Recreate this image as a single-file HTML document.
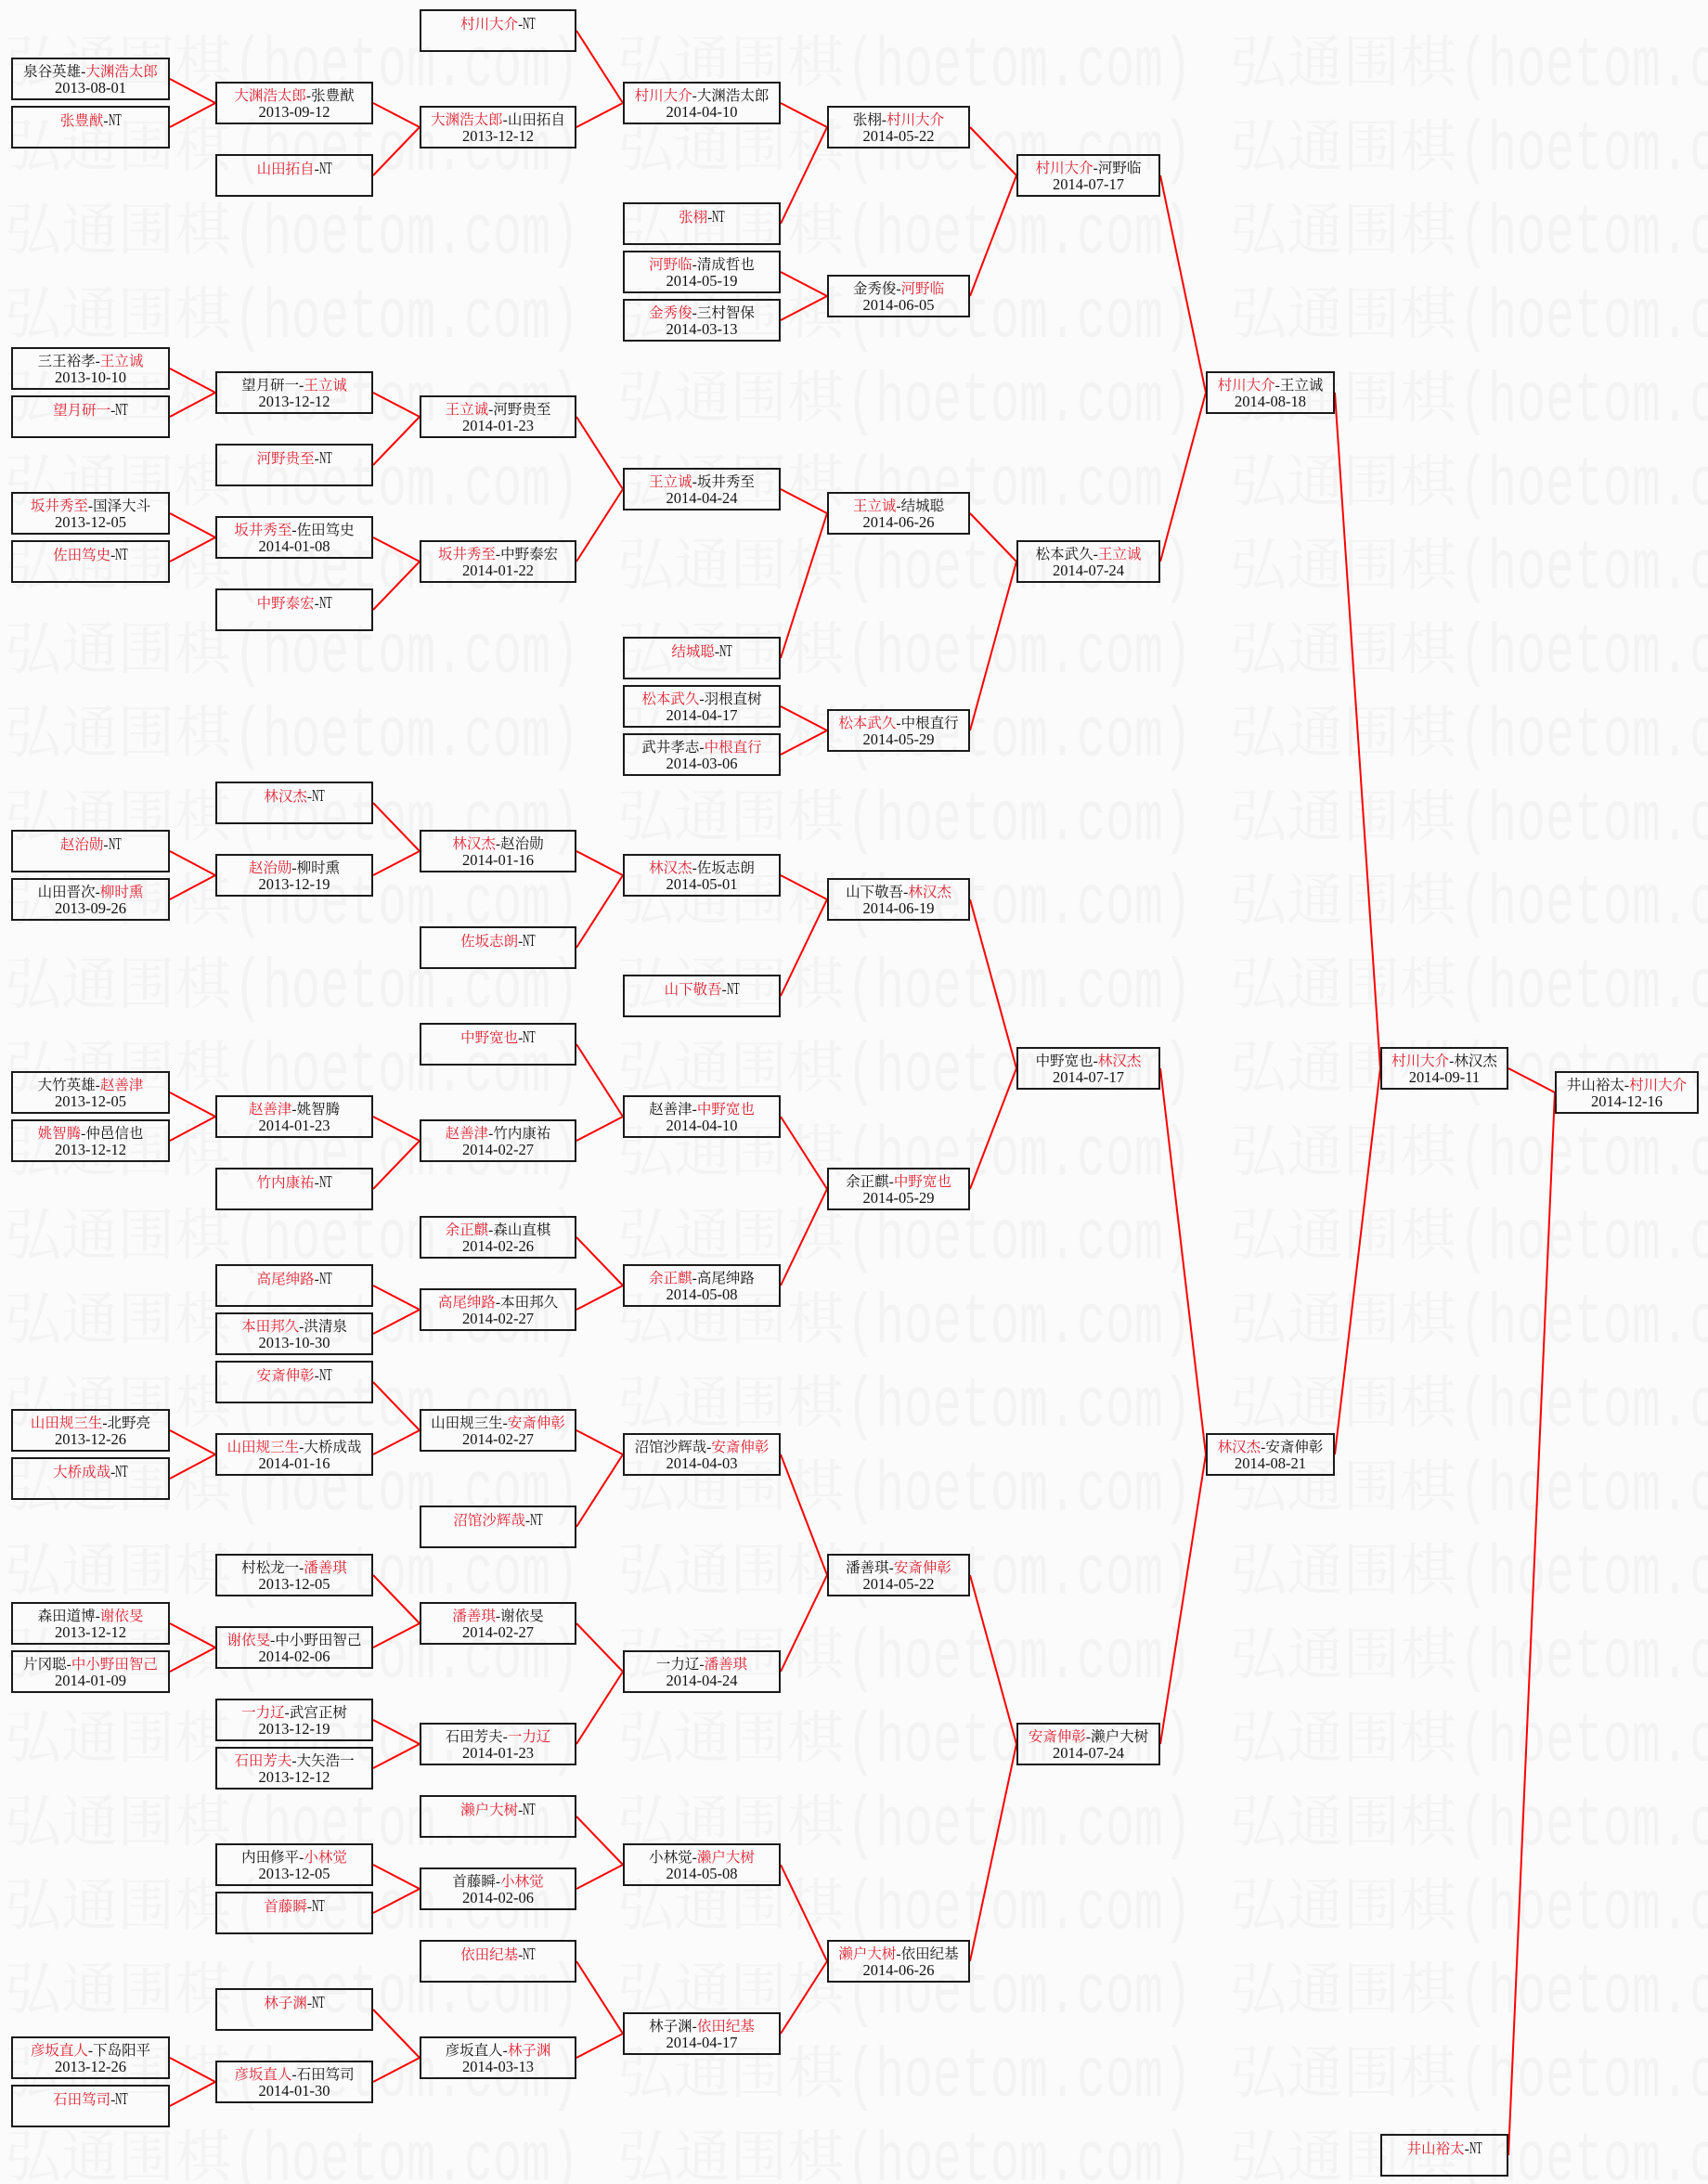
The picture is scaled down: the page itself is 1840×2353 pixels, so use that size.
<!DOCTYPE html>
<html><head><meta charset="utf-8">
<style>
html,body{margin:0;padding:0}
body{width:1840px;height:2353px;background:#fbfbfb;position:relative;overflow:hidden}
#wm,#ln{position:absolute;left:0;top:0}
.wc{font-family:"Noto Serif CJK SC","Noto Sans CJK SC",serif;font-size:61px;fill:#f3f3f3}
.wl{font-family:"Liberation Mono",monospace;font-size:76px;fill:#f3f3f3}
.b{position:absolute;height:46px;box-sizing:border-box;border:2px solid #1a1a1a}
.c0{left:12px;width:171px}
.c1{left:232px;width:170px}
.c2{left:452px;width:169px}
.c3{left:671px;width:170px}
.c4{left:891px;width:154px}
.c5{left:1095px;width:155px}
.c6{left:1299px;width:139px}
.c7{left:1487px;width:138px}
.c8{left:1675px;width:155px}
.n{position:absolute;left:-14px;right:-14px;top:4.5px;height:17.5px;line-height:17.5px;text-align:center;font-family:"Liberation Serif","Noto Serif CJK SC",serif;font-size:15.5px;color:#111;white-space:nowrap}
.d{position:absolute;left:-10px;right:-10px;top:21.7px;height:17.5px;line-height:17.5px;text-align:center;font-family:"Liberation Serif",serif;font-size:16.5px;color:#111;white-space:nowrap}
.r{color:#e02030}
.nt{display:inline-block;font-size:17.5px;line-height:17.5px;transform:scaleX(.58);transform-origin:0 50%;margin-right:-9.8px}
</style></head><body>
<svg id="wm" width="1840" height="2353" xmlns="http://www.w3.org/2000/svg">
<text class="wc" y="88.2"><tspan x="5">弘通围棋</tspan><tspan x="665">弘通围棋</tspan><tspan x="1325">弘通围棋</tspan></text>
<text class="wl" x="252" y="92" textLength="372" lengthAdjust="spacingAndGlyphs">(hoetom.com)</text><text class="wl" x="912" y="92" textLength="372" lengthAdjust="spacingAndGlyphs">(hoetom.com)</text><text class="wl" x="1572" y="92" textLength="372" lengthAdjust="spacingAndGlyphs">(hoetom.com)</text>
<text class="wc" y="178.5"><tspan x="5">弘通围棋</tspan><tspan x="665">弘通围棋</tspan><tspan x="1325">弘通围棋</tspan></text>
<text class="wl" x="252" y="182.3" textLength="372" lengthAdjust="spacingAndGlyphs">(hoetom.com)</text><text class="wl" x="912" y="182.3" textLength="372" lengthAdjust="spacingAndGlyphs">(hoetom.com)</text><text class="wl" x="1572" y="182.3" textLength="372" lengthAdjust="spacingAndGlyphs">(hoetom.com)</text>
<text class="wc" y="268.7"><tspan x="5">弘通围棋</tspan><tspan x="665">弘通围棋</tspan><tspan x="1325">弘通围棋</tspan></text>
<text class="wl" x="252" y="272.5" textLength="372" lengthAdjust="spacingAndGlyphs">(hoetom.com)</text><text class="wl" x="912" y="272.5" textLength="372" lengthAdjust="spacingAndGlyphs">(hoetom.com)</text><text class="wl" x="1572" y="272.5" textLength="372" lengthAdjust="spacingAndGlyphs">(hoetom.com)</text>
<text class="wc" y="359"><tspan x="5">弘通围棋</tspan><tspan x="665">弘通围棋</tspan><tspan x="1325">弘通围棋</tspan></text>
<text class="wl" x="252" y="362.8" textLength="372" lengthAdjust="spacingAndGlyphs">(hoetom.com)</text><text class="wl" x="912" y="362.8" textLength="372" lengthAdjust="spacingAndGlyphs">(hoetom.com)</text><text class="wl" x="1572" y="362.8" textLength="372" lengthAdjust="spacingAndGlyphs">(hoetom.com)</text>
<text class="wc" y="449.2"><tspan x="5">弘通围棋</tspan><tspan x="665">弘通围棋</tspan><tspan x="1325">弘通围棋</tspan></text>
<text class="wl" x="252" y="453" textLength="372" lengthAdjust="spacingAndGlyphs">(hoetom.com)</text><text class="wl" x="912" y="453" textLength="372" lengthAdjust="spacingAndGlyphs">(hoetom.com)</text><text class="wl" x="1572" y="453" textLength="372" lengthAdjust="spacingAndGlyphs">(hoetom.com)</text>
<text class="wc" y="539.5"><tspan x="5">弘通围棋</tspan><tspan x="665">弘通围棋</tspan><tspan x="1325">弘通围棋</tspan></text>
<text class="wl" x="252" y="543.3" textLength="372" lengthAdjust="spacingAndGlyphs">(hoetom.com)</text><text class="wl" x="912" y="543.3" textLength="372" lengthAdjust="spacingAndGlyphs">(hoetom.com)</text><text class="wl" x="1572" y="543.3" textLength="372" lengthAdjust="spacingAndGlyphs">(hoetom.com)</text>
<text class="wc" y="629.7"><tspan x="5">弘通围棋</tspan><tspan x="665">弘通围棋</tspan><tspan x="1325">弘通围棋</tspan></text>
<text class="wl" x="252" y="633.5" textLength="372" lengthAdjust="spacingAndGlyphs">(hoetom.com)</text><text class="wl" x="912" y="633.5" textLength="372" lengthAdjust="spacingAndGlyphs">(hoetom.com)</text><text class="wl" x="1572" y="633.5" textLength="372" lengthAdjust="spacingAndGlyphs">(hoetom.com)</text>
<text class="wc" y="720"><tspan x="5">弘通围棋</tspan><tspan x="665">弘通围棋</tspan><tspan x="1325">弘通围棋</tspan></text>
<text class="wl" x="252" y="723.8" textLength="372" lengthAdjust="spacingAndGlyphs">(hoetom.com)</text><text class="wl" x="912" y="723.8" textLength="372" lengthAdjust="spacingAndGlyphs">(hoetom.com)</text><text class="wl" x="1572" y="723.8" textLength="372" lengthAdjust="spacingAndGlyphs">(hoetom.com)</text>
<text class="wc" y="810.2"><tspan x="5">弘通围棋</tspan><tspan x="665">弘通围棋</tspan><tspan x="1325">弘通围棋</tspan></text>
<text class="wl" x="252" y="814" textLength="372" lengthAdjust="spacingAndGlyphs">(hoetom.com)</text><text class="wl" x="912" y="814" textLength="372" lengthAdjust="spacingAndGlyphs">(hoetom.com)</text><text class="wl" x="1572" y="814" textLength="372" lengthAdjust="spacingAndGlyphs">(hoetom.com)</text>
<text class="wc" y="900.5"><tspan x="5">弘通围棋</tspan><tspan x="665">弘通围棋</tspan><tspan x="1325">弘通围棋</tspan></text>
<text class="wl" x="252" y="904.3" textLength="372" lengthAdjust="spacingAndGlyphs">(hoetom.com)</text><text class="wl" x="912" y="904.3" textLength="372" lengthAdjust="spacingAndGlyphs">(hoetom.com)</text><text class="wl" x="1572" y="904.3" textLength="372" lengthAdjust="spacingAndGlyphs">(hoetom.com)</text>
<text class="wc" y="990.7"><tspan x="5">弘通围棋</tspan><tspan x="665">弘通围棋</tspan><tspan x="1325">弘通围棋</tspan></text>
<text class="wl" x="252" y="994.5" textLength="372" lengthAdjust="spacingAndGlyphs">(hoetom.com)</text><text class="wl" x="912" y="994.5" textLength="372" lengthAdjust="spacingAndGlyphs">(hoetom.com)</text><text class="wl" x="1572" y="994.5" textLength="372" lengthAdjust="spacingAndGlyphs">(hoetom.com)</text>
<text class="wc" y="1081"><tspan x="5">弘通围棋</tspan><tspan x="665">弘通围棋</tspan><tspan x="1325">弘通围棋</tspan></text>
<text class="wl" x="252" y="1084.8" textLength="372" lengthAdjust="spacingAndGlyphs">(hoetom.com)</text><text class="wl" x="912" y="1084.8" textLength="372" lengthAdjust="spacingAndGlyphs">(hoetom.com)</text><text class="wl" x="1572" y="1084.8" textLength="372" lengthAdjust="spacingAndGlyphs">(hoetom.com)</text>
<text class="wc" y="1171.2"><tspan x="5">弘通围棋</tspan><tspan x="665">弘通围棋</tspan><tspan x="1325">弘通围棋</tspan></text>
<text class="wl" x="252" y="1175" textLength="372" lengthAdjust="spacingAndGlyphs">(hoetom.com)</text><text class="wl" x="912" y="1175" textLength="372" lengthAdjust="spacingAndGlyphs">(hoetom.com)</text><text class="wl" x="1572" y="1175" textLength="372" lengthAdjust="spacingAndGlyphs">(hoetom.com)</text>
<text class="wc" y="1261.5"><tspan x="5">弘通围棋</tspan><tspan x="665">弘通围棋</tspan><tspan x="1325">弘通围棋</tspan></text>
<text class="wl" x="252" y="1265.3" textLength="372" lengthAdjust="spacingAndGlyphs">(hoetom.com)</text><text class="wl" x="912" y="1265.3" textLength="372" lengthAdjust="spacingAndGlyphs">(hoetom.com)</text><text class="wl" x="1572" y="1265.3" textLength="372" lengthAdjust="spacingAndGlyphs">(hoetom.com)</text>
<text class="wc" y="1351.7"><tspan x="5">弘通围棋</tspan><tspan x="665">弘通围棋</tspan><tspan x="1325">弘通围棋</tspan></text>
<text class="wl" x="252" y="1355.5" textLength="372" lengthAdjust="spacingAndGlyphs">(hoetom.com)</text><text class="wl" x="912" y="1355.5" textLength="372" lengthAdjust="spacingAndGlyphs">(hoetom.com)</text><text class="wl" x="1572" y="1355.5" textLength="372" lengthAdjust="spacingAndGlyphs">(hoetom.com)</text>
<text class="wc" y="1442"><tspan x="5">弘通围棋</tspan><tspan x="665">弘通围棋</tspan><tspan x="1325">弘通围棋</tspan></text>
<text class="wl" x="252" y="1445.8" textLength="372" lengthAdjust="spacingAndGlyphs">(hoetom.com)</text><text class="wl" x="912" y="1445.8" textLength="372" lengthAdjust="spacingAndGlyphs">(hoetom.com)</text><text class="wl" x="1572" y="1445.8" textLength="372" lengthAdjust="spacingAndGlyphs">(hoetom.com)</text>
<text class="wc" y="1532.2"><tspan x="5">弘通围棋</tspan><tspan x="665">弘通围棋</tspan><tspan x="1325">弘通围棋</tspan></text>
<text class="wl" x="252" y="1536" textLength="372" lengthAdjust="spacingAndGlyphs">(hoetom.com)</text><text class="wl" x="912" y="1536" textLength="372" lengthAdjust="spacingAndGlyphs">(hoetom.com)</text><text class="wl" x="1572" y="1536" textLength="372" lengthAdjust="spacingAndGlyphs">(hoetom.com)</text>
<text class="wc" y="1622.5"><tspan x="5">弘通围棋</tspan><tspan x="665">弘通围棋</tspan><tspan x="1325">弘通围棋</tspan></text>
<text class="wl" x="252" y="1626.3" textLength="372" lengthAdjust="spacingAndGlyphs">(hoetom.com)</text><text class="wl" x="912" y="1626.3" textLength="372" lengthAdjust="spacingAndGlyphs">(hoetom.com)</text><text class="wl" x="1572" y="1626.3" textLength="372" lengthAdjust="spacingAndGlyphs">(hoetom.com)</text>
<text class="wc" y="1712.7"><tspan x="5">弘通围棋</tspan><tspan x="665">弘通围棋</tspan><tspan x="1325">弘通围棋</tspan></text>
<text class="wl" x="252" y="1716.5" textLength="372" lengthAdjust="spacingAndGlyphs">(hoetom.com)</text><text class="wl" x="912" y="1716.5" textLength="372" lengthAdjust="spacingAndGlyphs">(hoetom.com)</text><text class="wl" x="1572" y="1716.5" textLength="372" lengthAdjust="spacingAndGlyphs">(hoetom.com)</text>
<text class="wc" y="1803"><tspan x="5">弘通围棋</tspan><tspan x="665">弘通围棋</tspan><tspan x="1325">弘通围棋</tspan></text>
<text class="wl" x="252" y="1806.8" textLength="372" lengthAdjust="spacingAndGlyphs">(hoetom.com)</text><text class="wl" x="912" y="1806.8" textLength="372" lengthAdjust="spacingAndGlyphs">(hoetom.com)</text><text class="wl" x="1572" y="1806.8" textLength="372" lengthAdjust="spacingAndGlyphs">(hoetom.com)</text>
<text class="wc" y="1893.2"><tspan x="5">弘通围棋</tspan><tspan x="665">弘通围棋</tspan><tspan x="1325">弘通围棋</tspan></text>
<text class="wl" x="252" y="1897" textLength="372" lengthAdjust="spacingAndGlyphs">(hoetom.com)</text><text class="wl" x="912" y="1897" textLength="372" lengthAdjust="spacingAndGlyphs">(hoetom.com)</text><text class="wl" x="1572" y="1897" textLength="372" lengthAdjust="spacingAndGlyphs">(hoetom.com)</text>
<text class="wc" y="1983.5"><tspan x="5">弘通围棋</tspan><tspan x="665">弘通围棋</tspan><tspan x="1325">弘通围棋</tspan></text>
<text class="wl" x="252" y="1987.3" textLength="372" lengthAdjust="spacingAndGlyphs">(hoetom.com)</text><text class="wl" x="912" y="1987.3" textLength="372" lengthAdjust="spacingAndGlyphs">(hoetom.com)</text><text class="wl" x="1572" y="1987.3" textLength="372" lengthAdjust="spacingAndGlyphs">(hoetom.com)</text>
<text class="wc" y="2073.7"><tspan x="5">弘通围棋</tspan><tspan x="665">弘通围棋</tspan><tspan x="1325">弘通围棋</tspan></text>
<text class="wl" x="252" y="2077.5" textLength="372" lengthAdjust="spacingAndGlyphs">(hoetom.com)</text><text class="wl" x="912" y="2077.5" textLength="372" lengthAdjust="spacingAndGlyphs">(hoetom.com)</text><text class="wl" x="1572" y="2077.5" textLength="372" lengthAdjust="spacingAndGlyphs">(hoetom.com)</text>
<text class="wc" y="2164"><tspan x="5">弘通围棋</tspan><tspan x="665">弘通围棋</tspan><tspan x="1325">弘通围棋</tspan></text>
<text class="wl" x="252" y="2167.8" textLength="372" lengthAdjust="spacingAndGlyphs">(hoetom.com)</text><text class="wl" x="912" y="2167.8" textLength="372" lengthAdjust="spacingAndGlyphs">(hoetom.com)</text><text class="wl" x="1572" y="2167.8" textLength="372" lengthAdjust="spacingAndGlyphs">(hoetom.com)</text>
<text class="wc" y="2254.2"><tspan x="5">弘通围棋</tspan><tspan x="665">弘通围棋</tspan><tspan x="1325">弘通围棋</tspan></text>
<text class="wl" x="252" y="2258" textLength="372" lengthAdjust="spacingAndGlyphs">(hoetom.com)</text><text class="wl" x="912" y="2258" textLength="372" lengthAdjust="spacingAndGlyphs">(hoetom.com)</text><text class="wl" x="1572" y="2258" textLength="372" lengthAdjust="spacingAndGlyphs">(hoetom.com)</text>
<text class="wc" y="2344.5"><tspan x="5">弘通围棋</tspan><tspan x="665">弘通围棋</tspan><tspan x="1325">弘通围棋</tspan></text>
<text class="wl" x="252" y="2348.3" textLength="372" lengthAdjust="spacingAndGlyphs">(hoetom.com)</text><text class="wl" x="912" y="2348.3" textLength="372" lengthAdjust="spacingAndGlyphs">(hoetom.com)</text><text class="wl" x="1572" y="2348.3" textLength="372" lengthAdjust="spacingAndGlyphs">(hoetom.com)</text>
</svg>
<svg id="ln" width="1840" height="2353" xmlns="http://www.w3.org/2000/svg">
<path fill="none" stroke="#f00" stroke-width="2" d="
M183 85L232 111M183 137L232 111
M183 397L232 423M183 449L232 423
M183 553L232 579M183 605L232 579
M183 917L232 943M183 969L232 943
M183 1177L232 1203M183 1229L232 1203
M183 1541L232 1567M183 1593L232 1567
M183 1749L232 1775M183 1801L232 1775
M183 2217L232 2243M183 2269L232 2243
M402 111L452 137M402 189L452 137
M402 423L452 449M402 501L452 449
M402 579L452 605M402 657L452 605
M402 865L452 917M402 943L452 917
M402 1203L452 1229M402 1281L452 1229
M402 1385L452 1411M402 1437L452 1411
M402 1489L452 1541M402 1567L452 1541
M402 1697L452 1749M402 1775L452 1749
M402 1853L452 1879M402 1905L452 1879
M402 2009L452 2035M402 2061L452 2035
M402 2165L452 2217M402 2243L452 2217
M621 33L671 111M621 137L671 111
M621 449L671 527M621 605L671 527
M621 917L671 943M621 1021L671 943
M621 1125L671 1203M621 1229L671 1203
M621 1333L671 1385M621 1411L671 1385
M621 1541L671 1567M621 1645L671 1567
M621 1749L671 1801M621 1879L671 1801
M621 1957L671 2009M621 2035L671 2009
M621 2113L671 2191M621 2217L671 2191
M841 111L891 137M841 241L891 137
M841 293L891 319M841 345L891 319
M841 527L891 553M841 709L891 553
M841 761L891 787M841 813L891 787
M841 943L891 969M841 1073L891 969
M841 1203L891 1281M841 1385L891 1281
M841 1567L891 1697M841 1801L891 1697
M841 2009L891 2113M841 2191L891 2113
M1045 137L1095 189M1045 319L1095 189
M1045 553L1095 605M1045 787L1095 605
M1045 969L1095 1151M1045 1281L1095 1151
M1045 1697L1095 1879M1045 2113L1095 1879
M1250 189L1299 423M1250 605L1299 423
M1250 1151L1299 1567M1250 1879L1299 1567
M1438 423L1487 1151M1438 1567L1487 1151
M1625 1151L1675 1177M1625 2322L1675 1177"/>
</svg>

<!-- Column 0 -->
<div class="b c0" style="top:62px"><div class="n">泉谷英雄-<span class="r">大渊浩太郎</span></div><div class="d">2013-08-01</div></div>
<div class="b c0" style="top:114px"><div class="n"><span class="r">张豊猷</span>-<span class="nt">NT</span></div></div>
<div class="b c0" style="top:374px"><div class="n">三王裕孝-<span class="r">王立诚</span></div><div class="d">2013-10-10</div></div>
<div class="b c0" style="top:426px"><div class="n"><span class="r">望月研一</span>-<span class="nt">NT</span></div></div>
<div class="b c0" style="top:530px"><div class="n"><span class="r">坂井秀至</span>-国泽大斗</div><div class="d">2013-12-05</div></div>
<div class="b c0" style="top:582px"><div class="n"><span class="r">佐田笃史</span>-<span class="nt">NT</span></div></div>
<div class="b c0" style="top:894px"><div class="n"><span class="r">赵治勋</span>-<span class="nt">NT</span></div></div>
<div class="b c0" style="top:946px"><div class="n">山田晋次-<span class="r">柳时熏</span></div><div class="d">2013-09-26</div></div>
<div class="b c0" style="top:1154px"><div class="n">大竹英雄-<span class="r">赵善津</span></div><div class="d">2013-12-05</div></div>
<div class="b c0" style="top:1206px"><div class="n"><span class="r">姚智腾</span>-仲邑信也</div><div class="d">2013-12-12</div></div>
<div class="b c0" style="top:1518px"><div class="n"><span class="r">山田规三生</span>-北野亮</div><div class="d">2013-12-26</div></div>
<div class="b c0" style="top:1570px"><div class="n"><span class="r">大桥成哉</span>-<span class="nt">NT</span></div></div>
<div class="b c0" style="top:1726px"><div class="n">森田道博-<span class="r">谢依旻</span></div><div class="d">2013-12-12</div></div>
<div class="b c0" style="top:1778px"><div class="n">片冈聪-<span class="r">中小野田智己</span></div><div class="d">2014-01-09</div></div>
<div class="b c0" style="top:2194px"><div class="n"><span class="r">彦坂直人</span>-下岛阳平</div><div class="d">2013-12-26</div></div>
<div class="b c0" style="top:2246px"><div class="n"><span class="r">石田笃司</span>-<span class="nt">NT</span></div></div>

<!-- Column 1 -->
<div class="b c1" style="top:88px"><div class="n"><span class="r">大渊浩太郎</span>-张豊猷</div><div class="d">2013-09-12</div></div>
<div class="b c1" style="top:166px"><div class="n"><span class="r">山田拓自</span>-<span class="nt">NT</span></div></div>
<div class="b c1" style="top:400px"><div class="n">望月研一-<span class="r">王立诚</span></div><div class="d">2013-12-12</div></div>
<div class="b c1" style="top:478px"><div class="n"><span class="r">河野贵至</span>-<span class="nt">NT</span></div></div>
<div class="b c1" style="top:556px"><div class="n"><span class="r">坂井秀至</span>-佐田笃史</div><div class="d">2014-01-08</div></div>
<div class="b c1" style="top:634px"><div class="n"><span class="r">中野泰宏</span>-<span class="nt">NT</span></div></div>
<div class="b c1" style="top:842px"><div class="n"><span class="r">林汉杰</span>-<span class="nt">NT</span></div></div>
<div class="b c1" style="top:920px"><div class="n"><span class="r">赵治勋</span>-柳时熏</div><div class="d">2013-12-19</div></div>
<div class="b c1" style="top:1180px"><div class="n"><span class="r">赵善津</span>-姚智腾</div><div class="d">2014-01-23</div></div>
<div class="b c1" style="top:1258px"><div class="n"><span class="r">竹内康祐</span>-<span class="nt">NT</span></div></div>
<div class="b c1" style="top:1362px"><div class="n"><span class="r">高尾绅路</span>-<span class="nt">NT</span></div></div>
<div class="b c1" style="top:1414px"><div class="n"><span class="r">本田邦久</span>-洪清泉</div><div class="d">2013-10-30</div></div>
<div class="b c1" style="top:1466px"><div class="n"><span class="r">安斎伸彰</span>-<span class="nt">NT</span></div></div>
<div class="b c1" style="top:1544px"><div class="n"><span class="r">山田规三生</span>-大桥成哉</div><div class="d">2014-01-16</div></div>
<div class="b c1" style="top:1674px"><div class="n">村松龙一-<span class="r">潘善琪</span></div><div class="d">2013-12-05</div></div>
<div class="b c1" style="top:1752px"><div class="n"><span class="r">谢依旻</span>-中小野田智己</div><div class="d">2014-02-06</div></div>
<div class="b c1" style="top:1830px"><div class="n"><span class="r">一力辽</span>-武宫正树</div><div class="d">2013-12-19</div></div>
<div class="b c1" style="top:1882px"><div class="n"><span class="r">石田芳夫</span>-大矢浩一</div><div class="d">2013-12-12</div></div>
<div class="b c1" style="top:1986px"><div class="n">内田修平-<span class="r">小林觉</span></div><div class="d">2013-12-05</div></div>
<div class="b c1" style="top:2038px"><div class="n"><span class="r">首藤瞬</span>-<span class="nt">NT</span></div></div>
<div class="b c1" style="top:2142px"><div class="n"><span class="r">林子渊</span>-<span class="nt">NT</span></div></div>
<div class="b c1" style="top:2220px"><div class="n"><span class="r">彦坂直人</span>-石田笃司</div><div class="d">2014-01-30</div></div>

<!-- Column 2 -->
<div class="b c2" style="top:10px"><div class="n"><span class="r">村川大介</span>-<span class="nt">NT</span></div></div>
<div class="b c2" style="top:114px"><div class="n"><span class="r">大渊浩太郎</span>-山田拓自</div><div class="d">2013-12-12</div></div>
<div class="b c2" style="top:426px"><div class="n"><span class="r">王立诚</span>-河野贵至</div><div class="d">2014-01-23</div></div>
<div class="b c2" style="top:582px"><div class="n"><span class="r">坂井秀至</span>-中野泰宏</div><div class="d">2014-01-22</div></div>
<div class="b c2" style="top:894px"><div class="n"><span class="r">林汉杰</span>-赵治勋</div><div class="d">2014-01-16</div></div>
<div class="b c2" style="top:998px"><div class="n"><span class="r">佐坂志朗</span>-<span class="nt">NT</span></div></div>
<div class="b c2" style="top:1102px"><div class="n"><span class="r">中野宽也</span>-<span class="nt">NT</span></div></div>
<div class="b c2" style="top:1206px"><div class="n"><span class="r">赵善津</span>-竹内康祐</div><div class="d">2014-02-27</div></div>
<div class="b c2" style="top:1310px"><div class="n"><span class="r">余正麒</span>-森山直棋</div><div class="d">2014-02-26</div></div>
<div class="b c2" style="top:1388px"><div class="n"><span class="r">高尾绅路</span>-本田邦久</div><div class="d">2014-02-27</div></div>
<div class="b c2" style="top:1518px"><div class="n">山田规三生-<span class="r">安斎伸彰</span></div><div class="d">2014-02-27</div></div>
<div class="b c2" style="top:1622px"><div class="n"><span class="r">沼馆沙辉哉</span>-<span class="nt">NT</span></div></div>
<div class="b c2" style="top:1726px"><div class="n"><span class="r">潘善琪</span>-谢依旻</div><div class="d">2014-02-27</div></div>
<div class="b c2" style="top:1856px"><div class="n">石田芳夫-<span class="r">一力辽</span></div><div class="d">2014-01-23</div></div>
<div class="b c2" style="top:1934px"><div class="n"><span class="r">濑户大树</span>-<span class="nt">NT</span></div></div>
<div class="b c2" style="top:2012px"><div class="n">首藤瞬-<span class="r">小林觉</span></div><div class="d">2014-02-06</div></div>
<div class="b c2" style="top:2090px"><div class="n"><span class="r">依田纪基</span>-<span class="nt">NT</span></div></div>
<div class="b c2" style="top:2194px"><div class="n">彦坂直人-<span class="r">林子渊</span></div><div class="d">2014-03-13</div></div>

<!-- Column 3 -->
<div class="b c3" style="top:88px"><div class="n"><span class="r">村川大介</span>-大渊浩太郎</div><div class="d">2014-04-10</div></div>
<div class="b c3" style="top:218px"><div class="n"><span class="r">张栩</span>-<span class="nt">NT</span></div></div>
<div class="b c3" style="top:270px"><div class="n"><span class="r">河野临</span>-清成哲也</div><div class="d">2014-05-19</div></div>
<div class="b c3" style="top:322px"><div class="n"><span class="r">金秀俊</span>-三村智保</div><div class="d">2014-03-13</div></div>
<div class="b c3" style="top:504px"><div class="n"><span class="r">王立诚</span>-坂井秀至</div><div class="d">2014-04-24</div></div>
<div class="b c3" style="top:686px"><div class="n"><span class="r">结城聪</span>-<span class="nt">NT</span></div></div>
<div class="b c3" style="top:738px"><div class="n"><span class="r">松本武久</span>-羽根直树</div><div class="d">2014-04-17</div></div>
<div class="b c3" style="top:790px"><div class="n">武井孝志-<span class="r">中根直行</span></div><div class="d">2014-03-06</div></div>
<div class="b c3" style="top:920px"><div class="n"><span class="r">林汉杰</span>-佐坂志朗</div><div class="d">2014-05-01</div></div>
<div class="b c3" style="top:1050px"><div class="n"><span class="r">山下敬吾</span>-<span class="nt">NT</span></div></div>
<div class="b c3" style="top:1180px"><div class="n">赵善津-<span class="r">中野宽也</span></div><div class="d">2014-04-10</div></div>
<div class="b c3" style="top:1362px"><div class="n"><span class="r">余正麒</span>-高尾绅路</div><div class="d">2014-05-08</div></div>
<div class="b c3" style="top:1544px"><div class="n">沼馆沙辉哉-<span class="r">安斎伸彰</span></div><div class="d">2014-04-03</div></div>
<div class="b c3" style="top:1778px"><div class="n">一力辽-<span class="r">潘善琪</span></div><div class="d">2014-04-24</div></div>
<div class="b c3" style="top:1986px"><div class="n">小林觉-<span class="r">濑户大树</span></div><div class="d">2014-05-08</div></div>
<div class="b c3" style="top:2168px"><div class="n">林子渊-<span class="r">依田纪基</span></div><div class="d">2014-04-17</div></div>

<!-- Column 4 -->
<div class="b c4" style="top:114px"><div class="n">张栩-<span class="r">村川大介</span></div><div class="d">2014-05-22</div></div>
<div class="b c4" style="top:296px"><div class="n">金秀俊-<span class="r">河野临</span></div><div class="d">2014-06-05</div></div>
<div class="b c4" style="top:530px"><div class="n"><span class="r">王立诚</span>-结城聪</div><div class="d">2014-06-26</div></div>
<div class="b c4" style="top:764px"><div class="n"><span class="r">松本武久</span>-中根直行</div><div class="d">2014-05-29</div></div>
<div class="b c4" style="top:946px"><div class="n">山下敬吾-<span class="r">林汉杰</span></div><div class="d">2014-06-19</div></div>
<div class="b c4" style="top:1258px"><div class="n">余正麒-<span class="r">中野宽也</span></div><div class="d">2014-05-29</div></div>
<div class="b c4" style="top:1674px"><div class="n">潘善琪-<span class="r">安斎伸彰</span></div><div class="d">2014-05-22</div></div>
<div class="b c4" style="top:2090px"><div class="n"><span class="r">濑户大树</span>-依田纪基</div><div class="d">2014-06-26</div></div>

<!-- Column 5 -->
<div class="b c5" style="top:166px"><div class="n"><span class="r">村川大介</span>-河野临</div><div class="d">2014-07-17</div></div>
<div class="b c5" style="top:582px"><div class="n">松本武久-<span class="r">王立诚</span></div><div class="d">2014-07-24</div></div>
<div class="b c5" style="top:1128px"><div class="n">中野宽也-<span class="r">林汉杰</span></div><div class="d">2014-07-17</div></div>
<div class="b c5" style="top:1856px"><div class="n"><span class="r">安斎伸彰</span>-濑户大树</div><div class="d">2014-07-24</div></div>

<!-- Column 6 -->
<div class="b c6" style="top:400px"><div class="n"><span class="r">村川大介</span>-王立诚</div><div class="d">2014-08-18</div></div>
<div class="b c6" style="top:1544px"><div class="n"><span class="r">林汉杰</span>-安斎伸彰</div><div class="d">2014-08-21</div></div>

<!-- Column 7 -->
<div class="b c7" style="top:1128px"><div class="n"><span class="r">村川大介</span>-林汉杰</div><div class="d">2014-09-11</div></div>
<div class="b c7" style="top:2299px"><div class="n"><span class="r">井山裕太</span>-<span class="nt">NT</span></div></div>

<!-- Column 8 -->
<div class="b c8" style="top:1154px"><div class="n">井山裕太-<span class="r">村川大介</span></div><div class="d">2014-12-16</div></div>
</body></html>
